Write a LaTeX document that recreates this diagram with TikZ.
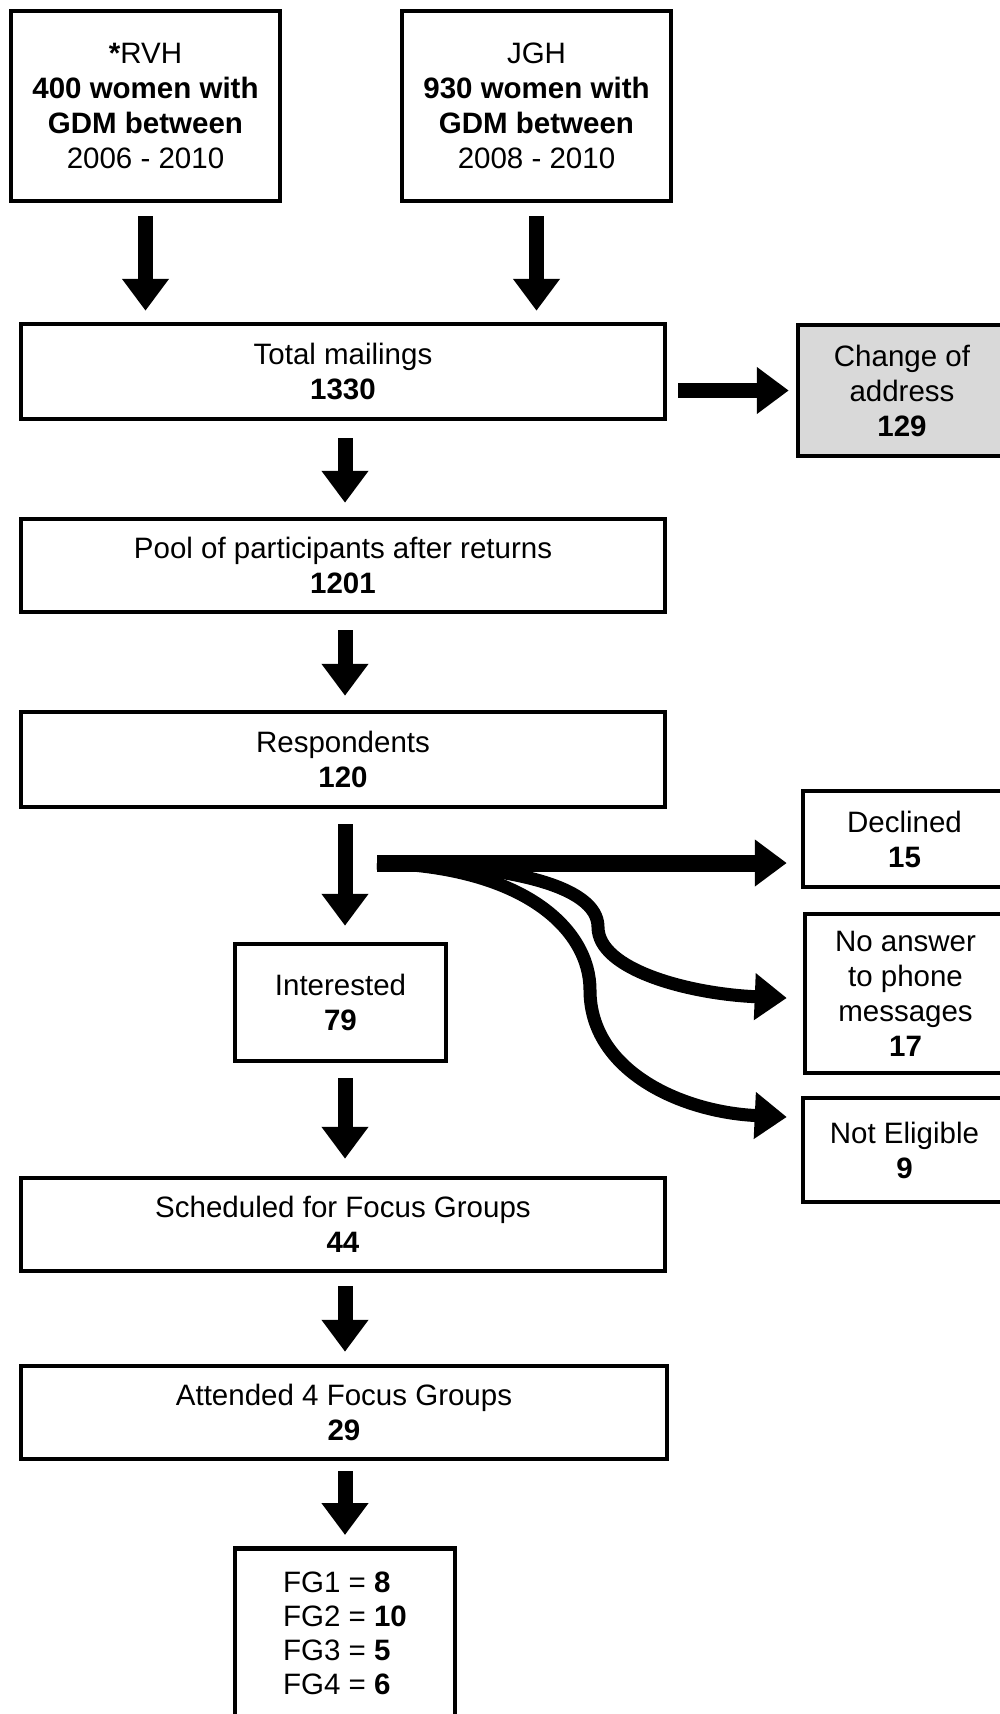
\documentclass[tikz,border=0pt]{standalone}
\usepackage{fontspec}
\setmainfont{Liberation Sans}
\usetikzlibrary{arrows.meta}
\tikzset{
  every node/.style={font=\fontsize{29.5}{35}\selectfont},
  box/.style={draw=black, line width=4.5pt, align=center, inner sep=0pt},
  arr/.style={line width=15pt, -{Triangle[width=45pt,length=32pt]}},
  carr/.style={line width=13pt, -{Triangle[width=45pt,length=32pt]}},
}
\begin{document}
\begin{tikzpicture}[x=1pt,y=1pt]
\useasboundingbox (0,0) rectangle (1000,-1714);
\node[box, minimum width=269pt, minimum height=190pt] (rvh) at (145.5,-106)
  {\textbf{*}RVH\\\textbf{400 women with}\\\textbf{GDM between}\\2006 - 2010};
\node[box, minimum width=269pt, minimum height=190pt] (jgh) at (536.5,-106)
  {JGH\\\textbf{930 women with}\\\textbf{GDM between}\\2008 - 2010};
\node[box, minimum width=644pt, minimum height=95pt] (total) at (343,-371.5)
  {Total mailings\\\textbf{1330}};
\node[box, fill=black!15, minimum width=208pt, minimum height=131pt] (change) at (902,-390.5)
  {Change of\\address\\\textbf{129}};
\node[box, minimum width=644pt, minimum height=93pt] (pool) at (343,-565.5)
  {Pool of participants after returns\\\textbf{1201}};
\node[box, minimum width=644pt, minimum height=95pt] (resp) at (343,-759.5)
  {Respondents\\\textbf{120}};
\node[box, minimum width=211pt, minimum height=117pt] (int) at (340.5,-1002.5)
  {Interested\\\textbf{79}};
\node[box, minimum width=644pt, minimum height=93pt] (sched) at (343,-1224.5)
  {Scheduled for Focus Groups\\\textbf{44}};
\node[box, minimum width=646pt, minimum height=93pt] (att) at (344,-1412.5)
  {Attended 4 Focus Groups\\\textbf{29}};
\node[box, anchor=north, align=left, minimum width=220pt, minimum height=170pt,
  font=\fontsize{29.5}{34}\selectfont] (fg) at (345,-1546)
  {FG1 = \textbf{8}\\FG2 = \textbf{10}\\FG3 = \textbf{5}\\FG4 = \textbf{6}};
\node[box, minimum width=203pt, minimum height=96pt] (dec) at (904.5,-839)
  {Declined\\\textbf{15}};
\node[box, minimum width=201pt, minimum height=159pt] (noans) at (905.5,-993.5)
  {No answer\\to phone\\messages\\\textbf{17}};
\node[box, minimum width=203pt, minimum height=104pt] (nelig) at (904.5,-1150)
  {Not Eligible\\\textbf{9}};
% vertical arrows
\draw[arr, shorten <=13pt, shorten >=11pt] (rvh.south) -- (rvh.south |- total.north);
\draw[arr, shorten <=13pt, shorten >=11pt] (jgh.south) -- (jgh.south |- total.north);
\draw[arr, shorten <=17pt, shorten >=14pt] ([xshift=2pt]total.south) -- ([xshift=2pt]pool.north);
\draw[arr, shorten <=16pt, shorten >=14pt] ([xshift=2pt]pool.south) -- ([xshift=2pt]resp.north);
\draw[arr, shorten <=15pt, shorten >=16pt] ([xshift=2pt]resp.south) -- ([xshift=2pt]resp.south |- int.north);
\draw[arr, shorten <=15pt, shorten >=17pt] ([xshift=4.5pt]int.south) -- ([xshift=4.5pt]int.south |- sched.north);
\draw[arr, shorten <=13pt, shorten >=12pt] ([xshift=2pt]sched.south) -- ([xshift=2pt]sched.south |- att.north);
\draw[arr, shorten <=10pt, shorten >=11pt] ([xshift=1pt]att.south) -- ([xshift=1pt]att.south |- fg.north);
% horizontal arrow
\draw[arr, shorten <=11pt, shorten >=7pt] (total.east |- change.west) -- (change.west);
% branch
\coordinate (br) at (377,-863);
\draw[carr] (br) .. controls (505,-864) and (598,-885) .. (598,-927)
  .. controls (598,-970) and (690,-994) .. ([xshift=-16pt]noans.west |- 0,-998);
\draw[carr] (br) .. controls (525,-866) and (590,-930) .. (590,-990)
  .. controls (590,-1070) and (680,-1112) .. ([xshift=-14pt]nelig.west |- 0,-1117);
\draw[line width=17pt, -{Triangle[width=45pt,length=32pt]}] (br) -- ([xshift=-14pt]dec.west |- br);
\end{tikzpicture}
\end{document}
